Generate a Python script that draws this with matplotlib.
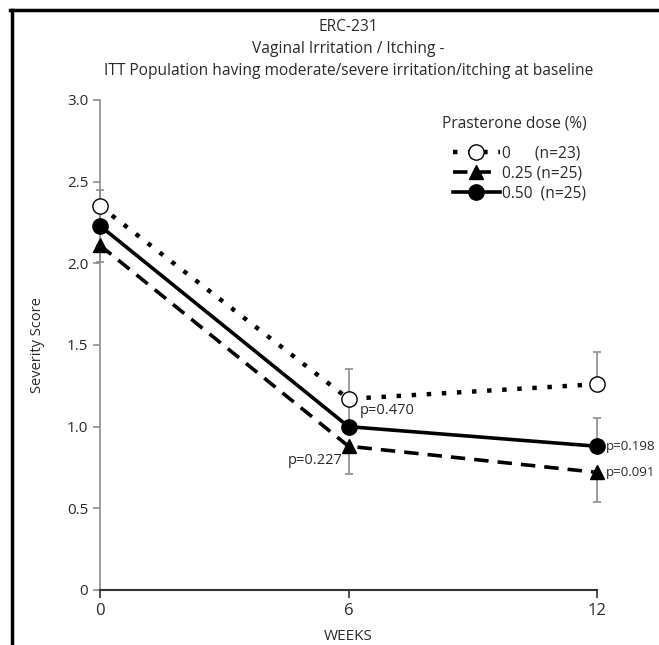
import matplotlib
matplotlib.use("Agg")
import matplotlib.pyplot as plt
from matplotlib.lines import Line2D

plt.rcParams['font.family'] = ['Open Sans', 'DejaVu Sans']

# data
weeks = [0, 6, 12]
dose_0 = [2.35, 1.17, 1.26]
dose_025 = [2.11, 0.88, 0.72]
dose_050 = [2.23, 1.00, 0.88]
# one sided error bars (SE), drawn up or down like in the original
err_0_up = [0.10, 0.18, 0.20]
err_025_down = [0.10, 0.17, 0.18]
err_050_up = [0.08, 0.15, 0.17]
p_025 = ["", "p=0.227", "p=0.091"]
p_050 = ["", "p=0.470", "p=0.198"]
legend_labels = ["0      (n=23)", "0.25 (n=25)", "0.50  (n=25)"]

fig = plt.figure(figsize=(6.59, 6.45), dpi=100)
ax = fig.add_axes([0.1517, 0.0853, 0.7543, 0.7597])

grey = "#8c8c8c"
txt = "#2a2a2a"

# error bars first so the markers sit on top
ax.errorbar(weeks, dose_0, yerr=[[0, 0, 0], err_0_up], fmt="none", ecolor=grey,
            elinewidth=1.2, capsize=3, capthick=1.2, zorder=2, clip_on=False)
ax.errorbar(weeks, dose_050, yerr=[[0, 0, 0], err_050_up], fmt="none", ecolor=grey,
            elinewidth=1.2, capsize=3, capthick=1.2, zorder=2, clip_on=False)
ax.errorbar(weeks, dose_025, yerr=[err_025_down, [0, 0, 0]], fmt="none", ecolor=grey,
            elinewidth=1.2, capsize=3, capthick=1.2, zorder=2, clip_on=False)

l0, = ax.plot(weeks, dose_0, color="black", linestyle=(0, (1, 2.4)), linewidth=3.2,
              marker="o", markersize=11, markerfacecolor="white", markeredgecolor="black",
              markeredgewidth=1.0, clip_on=False, zorder=4)
l1, = ax.plot(weeks, dose_025, color="black", linestyle=(0, (4, 2.5)), linewidth=2.6,
              marker="^", markersize=10, markerfacecolor="black", clip_on=False, zorder=4)
l2, = ax.plot(weeks, dose_050, color="black", linestyle="-", linewidth=2.6,
              marker="o", markersize=11, markerfacecolor="black", clip_on=False, zorder=5)

# p values
pfs = 10.5
ax.annotate(p_050[1], (weeks[1], dose_050[1]), xytext=(8, 6), textcoords="offset points",
            fontsize=pfs, color=txt, ha="left", va="bottom", annotation_clip=False)
ax.annotate(p_025[1], (weeks[1], dose_025[1]), xytext=(-4, -5), textcoords="offset points",
            fontsize=pfs, color=txt, ha="right", va="top", annotation_clip=False)
# the right hand ones are squeezed a little so they stay inside the picture
ax.annotate(p_050[2], (weeks[2], dose_050[2]), xytext=(6, 0), textcoords="offset points",
            fontsize=9.6, color=txt, ha="left", va="center", annotation_clip=False)
ax.annotate(p_025[2], (weeks[2], dose_025[2]), xytext=(6, 0), textcoords="offset points",
            fontsize=9.6, color=txt, ha="left", va="center", annotation_clip=False)

ax.set_xlim(0, 12)
ax.set_ylim(0, 3.0)
ax.set_xticks([0, 6, 12])
ax.set_xticklabels(["0", "6", "12"])
ax.set_yticks([0, 0.5, 1.0, 1.5, 2.0, 2.5, 3.0])
ax.set_yticklabels(["0", "0.5", "1.0", "1.5", "2.0", "2.5", "3.0"])

for side in ["top", "right"]:
    ax.spines[side].set_visible(False)
ax.spines["left"].set_color(grey)
ax.spines["left"].set_linewidth(1.2)
ax.spines["bottom"].set_color("#333333")
ax.spines["bottom"].set_linewidth(1.5)
ax.tick_params(axis="y", colors=grey, labelcolor=txt, labelsize=11, length=5, width=1.2)
ax.tick_params(axis="x", colors="#333333", labelcolor=txt, labelsize=12, length=6, width=1.2)

ax.set_ylabel("Severity Score", fontsize=10.5, color=txt, labelpad=16)
ax.set_xlabel("WEEKS", fontsize=11, color=txt, labelpad=7)

ax.set_title("ERC-231\nVaginal Irritation / Itching -\nITT Population having moderate/severe irritation/itching at baseline",
             fontsize=11.2, color=txt, linespacing=1.5, pad=18)

leg = ax.legend([l0, l1, l2], legend_labels, title="Prasterone dose (%)",
                loc="upper right", bbox_to_anchor=(1.0, 0.99), frameon=False,
                fontsize=11.2, title_fontsize=11.2, handlelength=3.0,
                handletextpad=0.15, labelspacing=0.25, borderpad=0.2)
leg._legend_box.align = "right"
leg._legend_box.sep = 10
for t in leg.get_texts():
    t.set_color(txt)
leg.get_title().set_color(txt)

# the black frame that shows on the top and left of the picture
fig.add_artist(Line2D([10 / 659, 1.0], [1 - 10 / 645, 1 - 10 / 645], color="black",
                      linewidth=2.5, transform=fig.transFigure))
fig.add_artist(Line2D([12 / 659, 12 / 659], [1 - 10 / 645, 0], color="black",
                      linewidth=2.5, transform=fig.transFigure))

fig.savefig("out.png", dpi=100)
